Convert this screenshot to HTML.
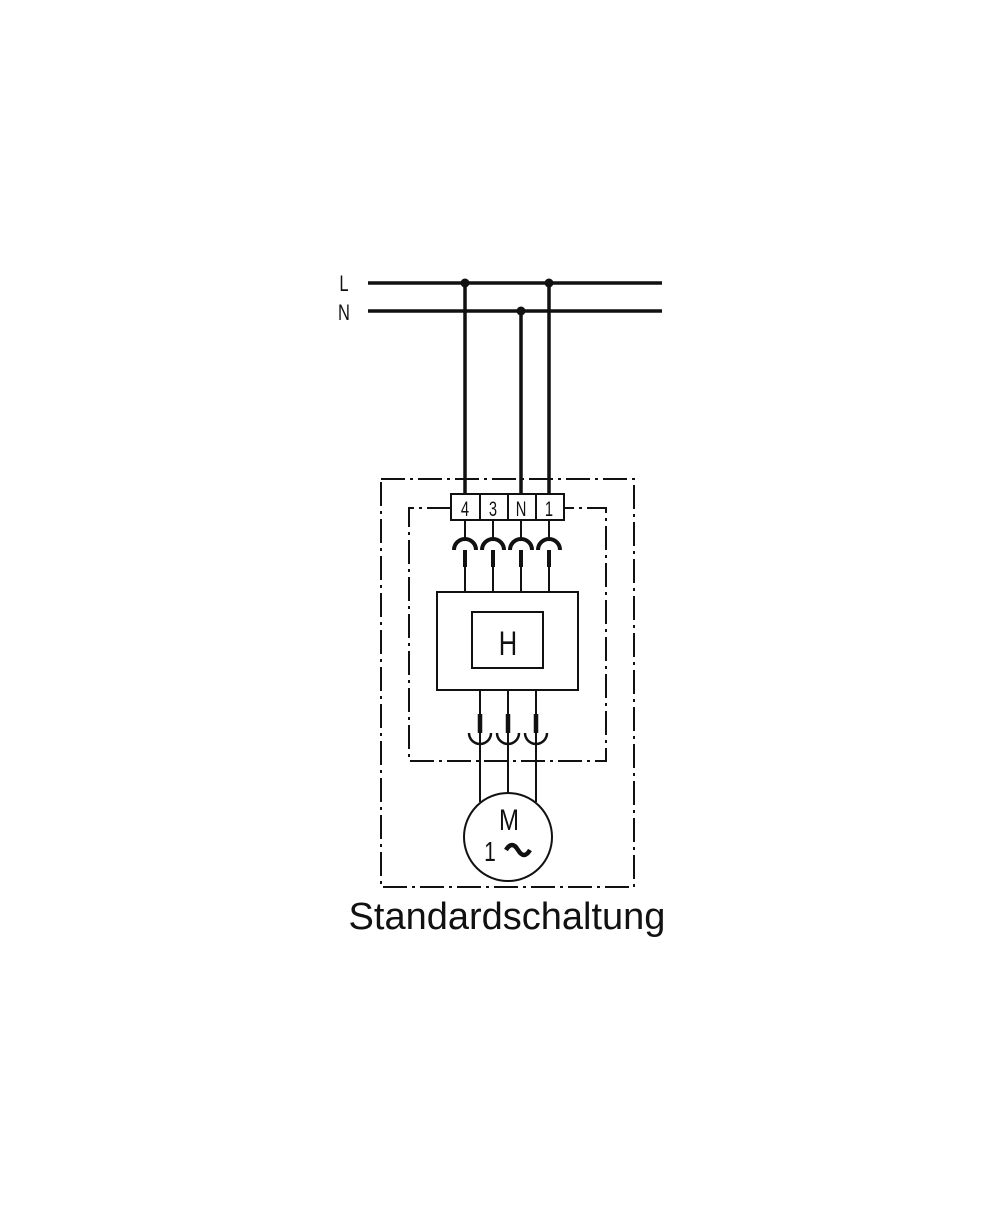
<!DOCTYPE html>
<html><head><style>body{margin:0;background:#fff}</style></head><body>
<svg width="1000" height="1200" xmlns="http://www.w3.org/2000/svg" font-family="Liberation Sans, sans-serif">
<rect width="1000" height="1200" fill="#fff"/>
<g stroke="#111" fill="none">
<line x1="368" y1="283" x2="662" y2="283" stroke-width="3.5"/>
<line x1="368" y1="311" x2="662" y2="311" stroke-width="3.5"/>
<line x1="465" y1="283" x2="465" y2="494" stroke-width="3.5"/>
<line x1="549" y1="283" x2="549" y2="494" stroke-width="3.5"/>
<line x1="521" y1="311" x2="521" y2="494" stroke-width="3.5"/>
<g stroke-width="2" stroke-dasharray="24,5,3,5">
<rect x="381" y="479" width="253" height="408"/>
<path d="M451 508 H409 V761 H606 V508 H564"/>
</g>
<rect x="451" y="494" width="113" height="26" stroke-width="2" fill="#fff"/>
<g stroke-width="2">
<line x1="480" y1="494" x2="480" y2="520"/>
<line x1="508" y1="494" x2="508" y2="520"/>
<line x1="536" y1="494" x2="536" y2="520"/>
</g>
<g stroke-width="2">
<path d="M465 520 V538 M493 520 V538 M521 520 V538 M549 520 V538"/>
<path d="M465 566 V592 M493 566 V592 M521 566 V592 M549 566 V592"/>
</g>
<g stroke-width="4">
<path d="M454 550 A11 11 0 0 1 476 550 M482 550 A11 11 0 0 1 504 550 M510 550 A11 11 0 0 1 532 550 M538 550 A11 11 0 0 1 560 550"/>
<path d="M465 550 V567 M493 550 V567 M521 550 V567 M549 550 V567"/>
</g>
<rect x="437" y="592" width="141" height="98" stroke-width="2"/>
<rect x="472" y="612" width="71" height="56" stroke-width="2"/>
<g stroke-width="2">
<path d="M480 690 V716 M508 690 V716 M536 690 V716"/>
<path d="M480 733 V802 M508 733 V793 M536 733 V802"/>
</g>
<path d="M469 733 A11 11 0 0 0 491 733 M497 733 A11 11 0 0 0 519 733 M525 733 A11 11 0 0 0 547 733" stroke-width="2.5"/>
<path d="M480 714 V733 M508 714 V733 M536 714 V733" stroke-width="4.5"/>
<circle cx="508" cy="837" r="44" stroke-width="2"/>
<path d="M506 850 q6 -10 12 0 q6 10 12 0" stroke-width="4.5"/>
</g>
<g fill="#111" font-size="20" text-anchor="middle">
<circle cx="465" cy="283" r="4.5"/><circle cx="549" cy="283" r="4.5"/><circle cx="521" cy="311" r="4.5"/>
<text transform="translate(344,291) scale(0.75,1)" font-size="22">L</text>
<text transform="translate(344,320) scale(0.75,1)" font-size="22">N</text>
<text transform="translate(465,516) scale(0.7,1)" font-size="21">4</text>
<text transform="translate(493,516) scale(0.7,1)" font-size="21">3</text>
<text transform="translate(521,516) scale(0.7,1)" font-size="21">N</text>
<text transform="translate(549,516) scale(0.7,1)" font-size="21">1</text>
<text transform="translate(508,655) scale(0.75,1)" font-size="34">H</text>
<text transform="translate(509,830) scale(0.8,1)" font-size="30">M</text>
<text transform="translate(490,861) scale(0.75,1)" font-size="28">1</text>
<text x="507" y="929" font-size="38">Standardschaltung</text>
</g>
</svg>
</body></html>
